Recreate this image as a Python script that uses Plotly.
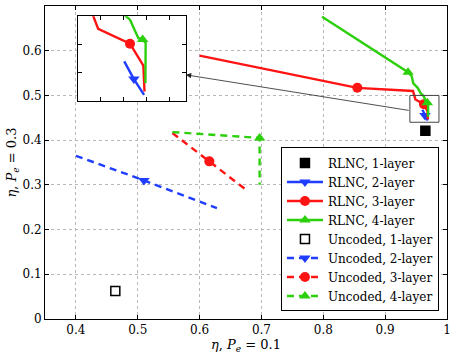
import plotly.graph_objects as go

# values
rlnc1_x = [0.965]
rlnc1_y = [0.421]

rlnc2_x = [0.9602, 0.9644, 0.9688]
rlnc2_y = [0.4679, 0.4553, 0.444]
rlnc2_marks = [1]

rlnc3_x = [0.600, 0.855, 0.945, 0.9468, 0.9489, 0.9627, 0.9685, 0.969]
rlnc3_y = [0.589, 0.517, 0.510, 0.500, 0.491, 0.4805, 0.4648, 0.4464]
rlnc3_marks = [1, 5]

rlnc4_x = [0.798, 0.937, 0.943, 0.9455, 0.9526, 0.9574, 0.9627, 0.9663, 0.9682, 0.9695, 0.9694]
rlnc4_y = [0.676, 0.552, 0.543, 0.527, 0.517, 0.505, 0.4976, 0.4846, 0.4834, 0.481, 0.4524]
rlnc4_marks = [1, 8]

unc1_x = [0.4637]
unc1_y = [0.0626]

unc2_x = [0.400, 0.510, 0.628]
unc2_y = [0.365, 0.310, 0.248]
unc2_marks = [1]

unc3_x = [0.556, 0.6157, 0.676]
unc3_y = [0.416, 0.3526, 0.288]
unc3_marks = [1]

unc4_x = [0.556, 0.697, 0.697]
unc4_y = [0.418, 0.405, 0.300]
unc4_marks = [1]

x_ticks = [0.4, 0.5, 0.6, 0.7, 0.8, 0.9, 1.0]
x_ticktext = ["0.4", "0.5", "0.6", "0.7", "0.8", "0.9", "1"]
y_ticks = [0, 0.1, 0.2, 0.3, 0.4, 0.5, 0.6]
y_ticktext = ["0", "0.1", "0.2", "0.3", "0.4", "0.5", "0.6"]

zoom_x = [0.94, 0.987]
zoom_y = [0.44, 0.50]

BLUE = "#1f3dff"
RED = "#ff1414"
GREEN = "#2ccf0c"
FONT = "DejaVu Serif"

series = [
    ("RLNC, 1-layer", rlnc1_x, rlnc1_y, None, "black", "square", "solid", "black"),
    ("RLNC, 2-layer", rlnc2_x, rlnc2_y, rlnc2_marks, BLUE, "triangle-down", "solid", BLUE),
    ("RLNC, 3-layer", rlnc3_x, rlnc3_y, rlnc3_marks, RED, "circle", "solid", RED),
    ("RLNC, 4-layer", rlnc4_x, rlnc4_y, rlnc4_marks, GREEN, "triangle-up", "solid", GREEN),
    ("Uncoded, 1-layer", unc1_x, unc1_y, None, "black", "square", "solid", "white"),
    ("Uncoded, 2-layer", unc2_x, unc2_y, unc2_marks, BLUE, "triangle-down", "7px,5px", BLUE),
    ("Uncoded, 3-layer", unc3_x, unc3_y, unc3_marks, RED, "circle", "7px,5px", RED),
    ("Uncoded, 4-layer", unc4_x, unc4_y, unc4_marks, GREEN, "triangle-up", "7px,5px", GREEN),
]

fig = go.Figure()

for axx, axy in [("x", "y"), ("x2", "y2")]:
    for name, xs, ys, marks, col, sym, dash, fill in series:
        if marks is None:
            fig.add_trace(go.Scatter(
                x=xs, y=ys, mode="markers", xaxis=axx, yaxis=axy, showlegend=False,
                marker=dict(symbol=sym, size=9, color=fill, line=dict(color=col, width=1.5)),
                hoverinfo="skip"))
            continue
        fig.add_trace(go.Scatter(
            x=xs, y=ys, mode="lines", xaxis=axx, yaxis=axy, showlegend=False,
            line=dict(color=col, width=2.4, dash=dash), hoverinfo="skip"))
        fig.add_trace(go.Scatter(
            x=[xs[i] for i in marks], y=[ys[i] for i in marks], mode="markers",
            xaxis=axx, yaxis=axy, showlegend=False,
            marker=dict(symbol=sym, size=10, color=col), hoverinfo="skip"))

# legend entries
for name, xs, ys, marks, col, sym, dash, fill in series:
    if marks is None:
        fig.add_trace(go.Scatter(
            x=[None], y=[None], mode="markers", name=name,
            marker=dict(symbol=sym, size=9, color=fill, line=dict(color=col, width=1.5))))
    else:
        fig.add_trace(go.Scatter(
            x=[None], y=[None], mode="lines+markers", name=name,
            line=dict(color=col, width=2.4, dash=dash),
            marker=dict(symbol=sym, size=10, color=col)))

# zoomed region box and arrow to the inset
fig.add_shape(type="rect", xref="x", yref="y", x0=zoom_x[0], x1=zoom_x[1],
              y0=zoom_y[0], y1=zoom_y[1], line=dict(color="#444", width=1))
fig.add_annotation(xref="x", yref="y", axref="x", ayref="y",
                   x=0.578, y=0.546, ax=0.9406, ay=0.466, text="",
                   showarrow=True, arrowhead=2, arrowsize=1.3, arrowwidth=0.8,
                   arrowcolor="#222", standoff=0, startstandoff=0)

axis_common = dict(showline=True, linecolor="black", linewidth=1, mirror="ticks",
                   ticks="inside", ticklen=4, tickcolor="black", zeroline=False)

fig.update_layout(
    width=456, height=358,
    margin=dict(l=45, r=9, t=6, b=39),
    paper_bgcolor="white", plot_bgcolor="white",
    font=dict(family=FONT, size=12, color="black"),
    xaxis=dict(range=[0.35, 1.0], tickvals=x_ticks, ticktext=x_ticktext,
               showgrid=True, gridcolor="#b8b8b8", griddash="dot", gridwidth=1,
               title=dict(text="<i>η</i>, <i>P<sub>e</sub></i> = 0.1", standoff=0,
                          font=dict(size=13)),
               **axis_common),
    yaxis=dict(range=[0, 0.7], tickvals=y_ticks, ticktext=y_ticktext,
               showgrid=True, gridcolor="#b8b8b8", griddash="dot", gridwidth=1,
               title=dict(text="<i>η</i>, <i>P<sub>e</sub></i> = 0.3", standoff=2,
                          font=dict(size=13)),
               **axis_common),
    xaxis2=dict(domain=[0.0813, 0.3507], anchor="y2", range=zoom_x,
                showticklabels=False, showgrid=False, **axis_common),
    yaxis2=dict(domain=[0.698, 0.967], anchor="x2", range=zoom_y,
                showticklabels=False, showgrid=False, **axis_common),
    legend=dict(x=0.98, y=0.024, xanchor="right", yanchor="bottom",
                bgcolor="white", bordercolor="black", borderwidth=1,
                font=dict(family=FONT, size=12), itemwidth=36,
                tracegroupgap=0),
)

# drop the page's default body margin so the chart sits at the window's corner
fig.write_html("out.html", config={"displayModeBar": False},
               post_script="document.body.style.margin = '0';")
